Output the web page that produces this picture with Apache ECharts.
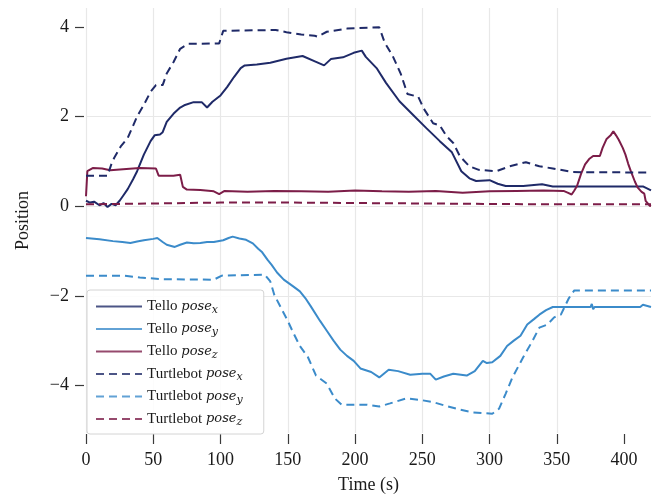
<!DOCTYPE html>
<html>
<head>
<meta charset="utf-8">
<script src="https://cdn.jsdelivr.net/npm/echarts@6/dist/echarts.min.js"></script>
<style>
  html, body { margin: 0; padding: 0; background: #ffffff; }
  #chart { width: 659px; height: 499px; }
</style>
</head>
<body>
<div id="chart"></div>
<script>
// Time stamps (s) and positions for each trace
const tTelloX = [0, 3, 6, 10, 13, 16, 19, 22, 25, 28, 31, 35, 38, 43, 48, 51, 55, 57, 60, 65, 70, 73, 80, 86, 90, 94, 100, 105, 110, 115, 118, 127, 137, 149, 161, 171, 177, 182, 191, 199, 205, 208, 216, 223, 233, 243, 253, 263, 272, 279, 285, 290, 300, 306, 312, 325, 339, 347, 380, 414, 420];
const telloX  = [0.12, 0.08, 0.10, 0.02, 0.07, -0.02, 0.05, 0.02, 0.12, 0.25, 0.38, 0.60, 0.78, 1.15, 1.45, 1.58, 1.60, 1.65, 1.88, 2.06, 2.20, 2.25, 2.32, 2.32, 2.20, 2.33, 2.47, 2.66, 2.88, 3.08, 3.14, 3.16, 3.20, 3.29, 3.35, 3.22, 3.14, 3.28, 3.32, 3.42, 3.47, 3.33, 3.08, 2.75, 2.34, 2.04, 1.74, 1.45, 1.20, 0.78, 0.62, 0.56, 0.58, 0.50, 0.45, 0.45, 0.49, 0.44, 0.44, 0.44, 0.35];

const tTelloY = [0, 10, 20, 27, 33, 38, 43, 50, 53, 57, 60, 66, 70, 75, 80, 85, 90, 95, 102, 106, 109, 114, 119, 124, 128, 131, 135, 138, 142, 147, 154, 159, 163, 167, 174, 179, 184, 189, 194, 199, 204, 212, 218, 225, 232, 241, 250, 256, 260, 266, 273, 283, 289, 295, 298, 302, 308, 313, 318, 323, 328, 333, 337, 342, 347, 375, 376, 377, 378, 412, 414, 420];
const telloY  = [-0.71, -0.74, -0.78, -0.80, -0.82, -0.79, -0.76, -0.73, -0.71, -0.80, -0.86, -0.91, -0.86, -0.81, -0.83, -0.82, -0.80, -0.80, -0.76, -0.71, -0.68, -0.72, -0.75, -0.83, -0.95, -1.03, -1.20, -1.31, -1.48, -1.64, -1.79, -1.90, -2.05, -2.23, -2.56, -2.78, -3.00, -3.20, -3.34, -3.45, -3.62, -3.70, -3.82, -3.65, -3.68, -3.76, -3.74, -3.74, -3.87, -3.80, -3.74, -3.78, -3.68, -3.45, -3.50, -3.48, -3.34, -3.12, -3.00, -2.89, -2.64, -2.52, -2.42, -2.32, -2.25, -2.25, -2.18, -2.30, -2.25, -2.25, -2.20, -2.25];

const tTelloZ = [0, 1, 5, 12, 18, 30, 40, 52, 54, 65, 70, 72, 75, 85, 95, 99, 103, 120, 140, 160, 180, 200, 220, 240, 260, 280, 300, 320, 340, 355, 358, 361, 363, 365, 368, 371, 374, 377, 382, 384, 387, 390, 392, 394, 396, 399, 401, 403, 405, 408, 410, 413, 415, 416, 419, 420];
const telloZ  = [0.22, 0.78, 0.85, 0.84, 0.80, 0.83, 0.85, 0.84, 0.68, 0.68, 0.70, 0.43, 0.37, 0.36, 0.33, 0.27, 0.34, 0.32, 0.34, 0.33, 0.32, 0.35, 0.33, 0.32, 0.34, 0.30, 0.33, 0.34, 0.35, 0.34, 0.30, 0.26, 0.35, 0.45, 0.72, 0.93, 1.05, 1.12, 1.12, 1.30, 1.50, 1.58, 1.67, 1.58, 1.48, 1.30, 1.15, 0.95, 0.78, 0.55, 0.42, 0.32, 0.28, 0.12, 0.01, 0.00];

const tBotX = [0, 16, 19, 21, 26, 31, 38, 43, 48, 52, 57, 60, 65, 70, 76, 99, 102, 141, 149, 160, 170, 172, 179, 194, 218, 222, 228, 234, 239, 247, 251, 258, 263, 268, 273, 278, 285, 292, 305, 315, 327, 337, 347, 362, 420];
const botX  = [0.68, 0.68, 0.95, 1.08, 1.34, 1.52, 2.00, 2.26, 2.55, 2.70, 2.70, 2.96, 3.21, 3.51, 3.62, 3.63, 3.91, 3.93, 3.88, 3.83, 3.80, 3.78, 3.89, 3.96, 3.99, 3.65, 3.35, 2.95, 2.50, 2.44, 2.18, 1.85, 1.80, 1.56, 1.41, 1.11, 0.89, 0.81, 0.78, 0.89, 0.98, 0.89, 0.84, 0.76, 0.75];

const tBotY = [0, 28, 40, 57, 95, 101, 133, 137, 140, 145, 150, 154, 159, 165, 171, 179, 185, 190, 209, 218, 226, 238, 248, 258, 268, 278, 288, 302, 307, 312, 317, 325, 332, 337, 343, 348, 353, 359, 363, 420];
const botY  = [-1.55, -1.55, -1.59, -1.63, -1.64, -1.55, -1.53, -1.68, -1.98, -2.27, -2.56, -2.82, -3.12, -3.37, -3.78, -3.96, -4.29, -4.43, -4.43, -4.47, -4.40, -4.29, -4.32, -4.37, -4.46, -4.54, -4.60, -4.63, -4.52, -4.18, -3.82, -3.37, -3.00, -2.71, -2.64, -2.48, -2.42, -2.05, -1.88, -1.88];

const tBotZ = [0, 50, 100, 150, 200, 250, 300, 350, 420];
const botZ  = [0.04, 0.06, 0.08, 0.08, 0.07, 0.06, 0.05, 0.04, 0.04];

const xTicks = [0, 50, 100, 150, 200, 250, 300, 350, 400];
const yTicks = [-4, -2, 0, 2, 4];

const NAVY = '#1f2a68';
const BLUE = '#3b8bca';
const MAROON = '#7c1d48';
const SERIF = "'Liberation Serif', 'DejaVu Serif', serif";
const MATH = "'DejaVu Serif', serif";

function pairs(ts, vs) { return ts.map((t, i) => [t, vs[i]]); }

function trace(name, ts, vs, color, dashed) {
  return {
    name: name,
    type: 'line',
    data: pairs(ts, vs),
    symbol: 'none',
    showSymbol: false,
    animation: false,
    lineStyle: { color: color, width: 2, type: dashed ? [8, 5] : 'solid' },
    itemStyle: { color: color }
  };
}

const chart = echarts.init(document.getElementById('chart'), null, { renderer: 'canvas' });

chart.setOption({
  animation: false,
  backgroundColor: '#ffffff',
  grid: { left: 86, right: 8, top: 8, bottom: 63 },
  xAxis: {
    type: 'value',
    min: 0,
    max: 420,
    offset: 1,
    name: 'Time (s)',
    nameLocation: 'middle',
    nameGap: 42,
    nameTextStyle: { fontFamily: SERIF, fontSize: 18, color: '#1a1a1a' },
    axisLine: { show: false, onZero: false },
    axisTick: { show: true, length: 10, customValues: xTicks, lineStyle: { color: '#3a3a3a', width: 1.2 } },
    axisLabel: { customValues: xTicks, margin: 17, fontFamily: SERIF, fontSize: 18, color: '#1a1a1a' },
    splitLine: { show: true, showMinLine: true, showMaxLine: false, lineStyle: { color: '#e8e8e8', width: 1.2 } }
  },
  yAxis: {
    type: 'value',
    min: -5.06,
    max: 4.42,
    offset: 2,
    name: 'Position',
    nameLocation: 'middle',
    nameRotate: 90,
    nameGap: 52,
    nameTextStyle: { fontFamily: SERIF, fontSize: 18, color: '#1a1a1a' },
    axisLine: { show: false, onZero: false },
    axisTick: { show: true, length: 9, customValues: yTicks, lineStyle: { color: '#3a3a3a', width: 1.2 } },
    axisLabel: {
      customValues: yTicks,
      margin: 15,
      fontFamily: SERIF,
      fontSize: 18,
      color: '#1a1a1a',
      formatter: v => (v < 0 ? '\u2212' + Math.abs(v) : String(v))
    },
    splitLine: { show: true, showMinLine: false, showMaxLine: false, lineStyle: { color: '#e8e8e8', width: 1.2 } }
  },
  legend: {
    orient: 'vertical',
    left: 87,
    top: 290,
    itemWidth: 46,
    itemHeight: 14,
    itemGap: 6,
    padding: [9, 21, 6, 8],
    backgroundColor: 'rgba(255,255,255,0.85)',
    borderColor: '#d4d4d4',
    borderWidth: 1,
    borderRadius: 3,
    itemStyle: { opacity: 0 },
    lineStyle: { opacity: 0.8 },
    formatter: function (name) {
      const m = name.match(/^(\S+) pose_(\w)$/);
      return '{t|' + m[1] + ' }{m|pose}{s|' + m[2] + '}';
    },
    textStyle: {
      rich: {
        t: { fontFamily: SERIF, fontSize: 15, color: '#1a1a1a', lineHeight: 18, verticalAlign: 'middle' },
        m: { fontFamily: MATH, fontStyle: 'italic', fontSize: 13, color: '#1a1a1a', lineHeight: 18, verticalAlign: 'middle' },
        s: { fontFamily: MATH, fontStyle: 'italic', fontSize: 11, color: '#1a1a1a', lineHeight: 10, verticalAlign: 'bottom' }
      }
    },
    data: ['Tello pose_x', 'Tello pose_y', 'Tello pose_z', 'Turtlebot pose_x', 'Turtlebot pose_y', 'Turtlebot pose_z']
  },
  series: [
    trace('Tello pose_x', tTelloX, telloX, NAVY, false),
    trace('Tello pose_y', tTelloY, telloY, BLUE, false),
    trace('Tello pose_z', tTelloZ, telloZ, MAROON, false),
    trace('Turtlebot pose_x', tBotX, botX, NAVY, true),
    trace('Turtlebot pose_y', tBotY, botY, BLUE, true),
    trace('Turtlebot pose_z', tBotZ, botZ, MAROON, true)
  ]
});
</script>
</body>
</html>
